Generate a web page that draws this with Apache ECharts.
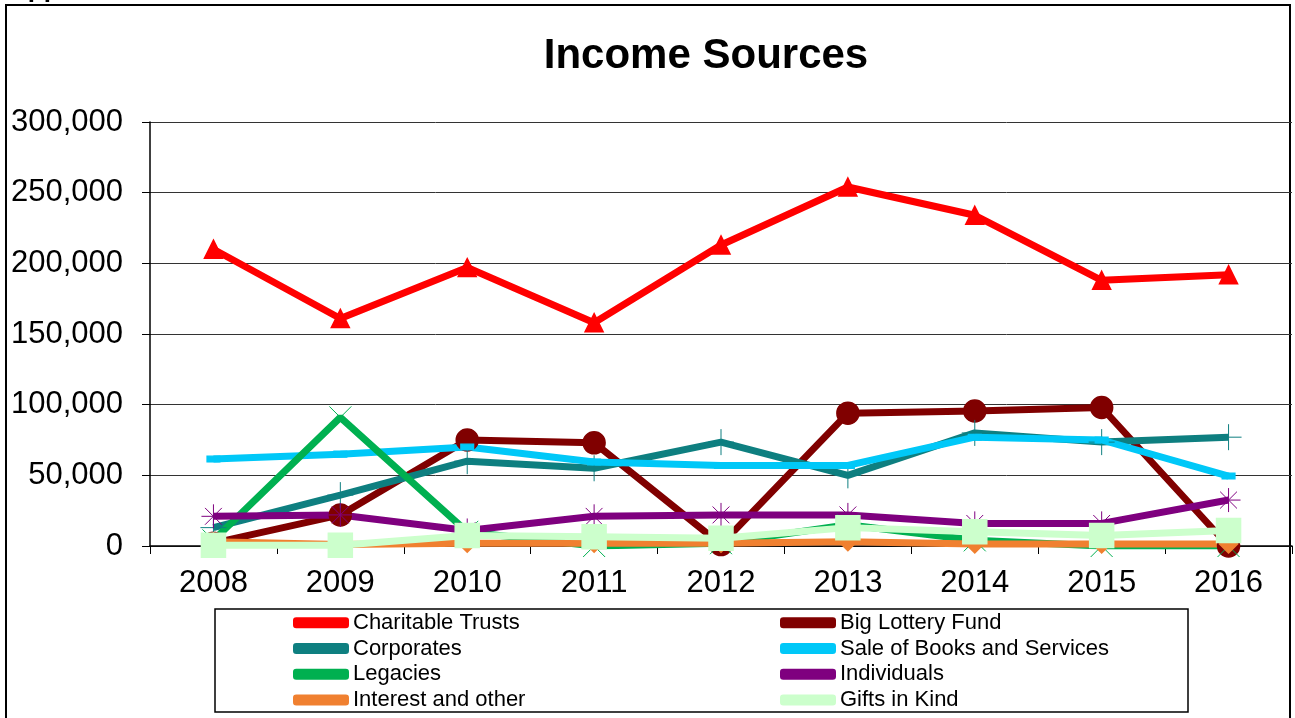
<!DOCTYPE html>
<html>
<head>
<meta charset="utf-8">
<script src="https://cdn.jsdelivr.net/npm/echarts@6/dist/echarts.min.js"></script>
<style>
html,body{margin:0;padding:0;background:#fff;}
#main{width:1295px;height:718px;}
</style>
</head>
<body>
<div id="main"></div>
<script>
const years = ['2008','2009','2010','2011','2012','2013','2014','2015','2016'];
const yTicks = [0, 50000, 100000, 150000, 200000, 250000, 300000];
const charitableTrusts = [210000, 161000, 197000, 158000, 213000, 254000, 234000, 188000, 192000];
const bigLotteryFund   = [2000, 22000, 75000, 73000, 1000, 94000, 95500, 98000, 0];
const corporates       = [13000, 36000, 60000, 55000, 73500, 50000, 80000, 73500, 77000];
const saleOfBooks      = [61500, 65000, 70000, 59500, 57000, 57000, 77000, 75000, 49500];
const legacies         = [4000, 91000, 10000, 0, 2000, 15000, 4000, 0, 0];
const individuals      = [21000, 22000, 11000, 21000, 22000, 22000, 16000, 16000, 32500];
const interestOther    = [3000, 1000, 2000, 2000, 2000, 3000, 1500, 1500, 1500];
const giftsInKind      = [500, 500, 7500, 6500, 5500, 13000, 10000, 7500, 11000];

const FONT = '"Liberation Sans", Arial, sans-serif';
const P_PLUS = 'path://M5,0 L5,10 M0,5 L10,5';
const P_X = 'path://M0,0 L10,10 M10,0 L0,10';
const P_STAR = 'path://M5,0 L5,10 M0,5 L10,5 M1.5,1.5 L8.5,8.5 M8.5,1.5 L1.5,8.5';

function mk(name, data, color, symbol, size, extra) {
  return Object.assign({
    name: name, type: 'line', data: data, color: color,
    symbol: symbol, symbolSize: size, showAllSymbol: true,
    lineStyle: {width: 7, color: color},
    itemStyle: {color: color, borderColor: color, borderWidth: 1.5},
    emphasis: {disabled: true},
    animation: false
  }, extra || {});
}

const series = [
  mk('Charitable Trusts', charitableTrusts, '#FF0000', 'triangle', 18),
  mk('Big Lottery Fund', bigLotteryFund, '#800000', 'circle', 22),
  mk('Corporates', corporates, '#0E7F80', P_PLUS, 26, {itemStyle:{color:'#0E7F80', borderColor:'#0E7F80', borderWidth:1}}),
  mk('Sale of Books and Services', saleOfBooks, '#00C8F8', 'rect', [12, 6]),
  mk('Legacies', legacies, '#00B050', P_X, 22, {itemStyle:{color:'#00B050', borderColor:'#00B050', borderWidth:1}}),
  mk('Individuals', individuals, '#7F007F', P_STAR, 24, {itemStyle:{color:'#7F007F', borderColor:'#7F007F', borderWidth:1}}),
  mk('Interest and other', interestOther, '#F08030', 'diamond', 18),
  mk('Gifts in Kind', giftsInKind, '#CCFFCC', 'rect', 24)
];

const legendCommon = {
  orient: 'vertical', icon: 'roundRect', itemWidth: 54, itemHeight: 9, itemGap: 0, top: 610,
  padding: 0, height: 106,
  textStyle: {fontFamily: FONT, fontSize: 22, color: '#000', lineHeight: 25.7, padding: [0, 0, 0, 0]},
  selectedMode: false
};

const chart = echarts.init(document.getElementById('main'), null, {renderer: 'canvas'});
chart.setOption({
  animation: false,
  backgroundColor: '#fff',
  grid: {left: 150, right: 3, top: 122, bottom: 172},
  legend: [
    Object.assign({left: 293, data: ['Charitable Trusts', 'Corporates', 'Legacies', 'Interest and other']}, legendCommon),
    Object.assign({left: 780, data: ['Big Lottery Fund', 'Sale of Books and Services', 'Individuals', 'Gifts in Kind']}, legendCommon)
  ],
  xAxis: {
    type: 'category', data: years, boundaryGap: true,
    axisLine: {lineStyle: {color: '#000', width: 1.5}},
    axisTick: {show: true, length: 8, lineStyle: {color: '#000'}},
    axisLabel: {fontFamily: FONT, fontSize: 31, color: '#000', margin: 22}
  },
  yAxis: {
    type: 'value', min: yTicks[0], max: yTicks[yTicks.length - 1], interval: yTicks[1] - yTicks[0],
    axisLine: {show: true, lineStyle: {color: '#000', width: 1.5}},
    axisTick: {show: true, length: 8, lineStyle: {color: '#000'}},
    splitLine: {show: true, lineStyle: {color: '#333', width: 1}},
    axisLabel: {fontFamily: FONT, fontSize: 31, color: '#000', margin: 27,
      formatter: v => v.toLocaleString('en-US')}
  },
  graphic: [
    {type: 'rect', shape: {x: 6, y: 5, width: 1284, height: 720}, style: {fill: 'none', stroke: '#000', lineWidth: 2}, z: 0, silent: true},
    {type: 'rect', shape: {x: 215, y: 609, width: 973, height: 103}, style: {fill: 'none', stroke: '#000', lineWidth: 1.5}, z: 0, silent: true},
    {type: 'text', style: {text: 'Income Sources', x: 706, y: 56, align: 'center', verticalAlign: 'middle', font: 'bold 42px ' + FONT, fill: '#000'}, silent: true},
    {type: 'text', style: {text: 'Appendix', x: 9, y: -23, align: 'left', verticalAlign: 'top', font: 'bold 26px ' + FONT, fill: '#000'}, silent: true}
  ],
  series: series
});
</script>
</body>
</html>
